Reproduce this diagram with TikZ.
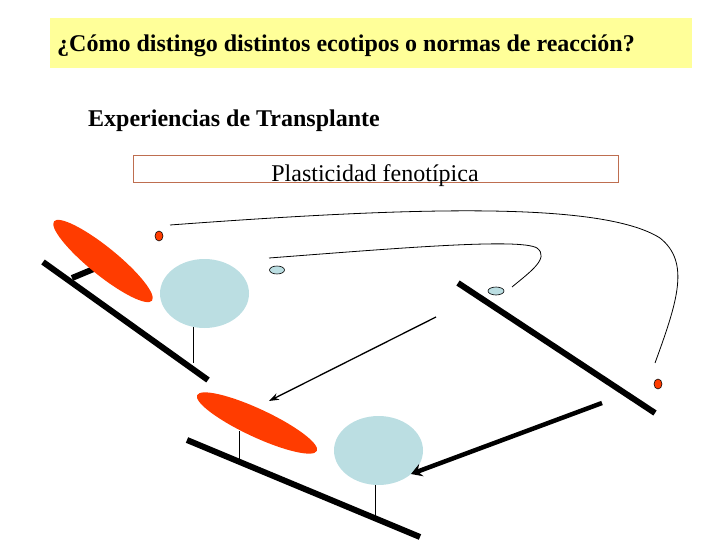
\documentclass[tikz,border=0pt]{standalone}
\usepackage{fontspec}
\setmainfont{Liberation Serif}
\usetikzlibrary{shapes.geometric,arrows.meta}
\definecolor{myyellow}{RGB}{255,255,153}
\definecolor{mylightblue}{RGB}{187,222,226}
\definecolor{myred}{RGB}{255,60,0}
\definecolor{mybrown}{RGB}{190,110,80}
\newcommand{\widthground}{6pt}
\tikzset{
    label/.style={inner sep=0pt, font=\fontsize{24}{28}\selectfont},
    ground/.style={line width=\widthground},
    leaf/.style={ellipse, fill=myred, inner sep=0pt},
    crown/.style={ellipse, fill=mylightblue, inner sep=0pt, minimum width=89pt, minimum height=69pt},
    seed/.style={ellipse, draw, inner sep=0pt, line width=0.6pt},
    stem/.style={line width=0.8pt},
    path/.style={line width=0.8pt}
}

\begin{document}
\begin{tikzpicture}[x=1pt, y=1pt]
    \useasboundingbox (0,0) rectangle (720,-540);
    % title
    \node[fill=myyellow, minimum width=642pt, minimum height=50pt, inner sep=0pt] (title) at (371,-43) {};
    \node[label, anchor=base west, font=\fontsize{24}{28}\selectfont\bfseries] (question) at (57,-52) {¿Cómo distingo distintos ecotipos o normas de reacción?};
    \node[label, anchor=base west, font=\fontsize{24}{28}\selectfont\bfseries] (exp) at (88,-127) {Experiencias de Transplante};
    \node[draw=mybrown, line width=0.8pt, minimum width=485pt, minimum height=27pt, inner sep=0pt] (plastbox) at (375.5,-168.5) {};
    \node[label, anchor=base] (plast) at (375,-182) {Plasticidad fenotípica};

    % first site
    \draw[ground] (43,-262) -- (208,-380);
    \draw[ground] (72,-278) -- (96,-268);
    \node[leaf, rotate=-39, minimum width=126pt, minimum height=28pt] (leafA) at (103,-261) {};
    \node[crown] (crownA) at (204.5,-293.5) {};
    \draw[stem] (193,-327) -- (193,-363);
    \node[seed, fill=myred, minimum width=8pt, minimum height=10pt] (seedA) at (159,-236) {};
    \node[seed, fill=mylightblue, minimum width=15pt, minimum height=8pt] (seedB) at (277,-270) {};

    % second site
    \draw[ground] (458,-283) -- (655,-413);
    \node[seed, fill=mylightblue, minimum width=16pt, minimum height=8pt] (seedC) at (496,-291) {};
    \node[seed, fill=myred, minimum width=8pt, minimum height=10pt] (seedD) at (658,-384) {};

    % third site
    \draw[ground] (187,-440) -- (420,-537);
    \node[leaf, rotate=-25, minimum width=132pt, minimum height=28pt] (leafB) at (257,-423) {};
    \draw[stem] (239,-431) -- (239,-463);
    \node[crown] (crownB) at (378.5,-450.5) {};
    \draw[stem] (375,-485) -- (375,-517);

    % transplants
    \coordinate (startA) at (170,-225);
    \coordinate (endA) at (655,-363);
    \coordinate (startB) at (269,-258);
    \coordinate (endB) at (512,-287);
    \draw[path] (startA) .. controls (400,-208) and (600,-200) .. (660,-238)
        .. controls (690,-262) and (678,-300) .. (endA);
    \draw[path] (startB) .. controls (400,-248) and (520,-238) .. (537,-248)
        .. controls (550,-258) and (530,-272) .. (endB);
    \coordinate (fromA) at (436,-317);
    \coordinate (toA) at (269,-401);
    \coordinate (fromB) at (602,-403);
    \coordinate (toB) at (411,-474);
    \draw[line width=1.3pt, -{Stealth[length=10pt, width=7pt]}] (fromA) -- (toA);
    \draw[line width=4.5pt, -{Stealth[length=11pt, width=13pt, inset=4pt]}] (fromB) -- (toB);
\end{tikzpicture}
\end{document}
